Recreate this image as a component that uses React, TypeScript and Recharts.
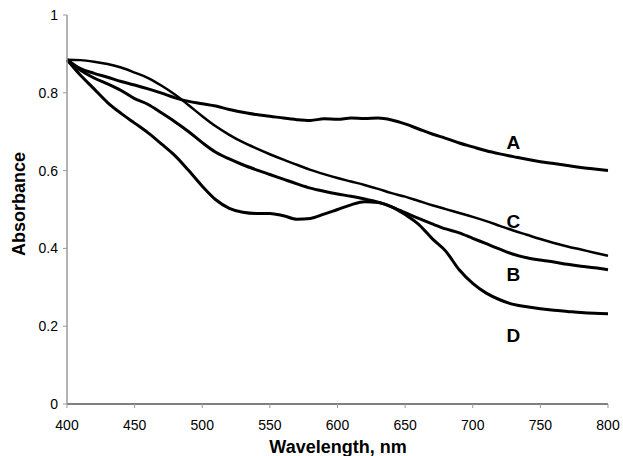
import { LineChart, Line, XAxis, YAxis, ReferenceDot, Label } from "recharts";

// absorbance spectra, every 10 nm
const wavelengths = [
  400, 410, 420, 430, 440, 450, 460, 470, 480, 490,
  500, 510, 520, 530, 540, 550, 560, 570, 580, 590,
  600, 610, 620, 630, 640, 650, 660, 670, 680, 690,
  700, 710, 720, 730, 740, 750, 760, 770, 780, 790,
  800,
];

const absA = [
  0.885, 0.862, 0.85, 0.84, 0.829, 0.82, 0.81, 0.799, 0.787, 0.778,
  0.772, 0.766, 0.757, 0.75, 0.744, 0.74, 0.735, 0.731, 0.729, 0.733,
  0.732, 0.735, 0.734, 0.735, 0.73, 0.72, 0.707, 0.694, 0.683, 0.671,
  0.661, 0.651, 0.643, 0.636, 0.629, 0.623, 0.618, 0.613, 0.608, 0.604,
  0.6,
];

const absB = [
  0.885, 0.858, 0.838, 0.823, 0.806, 0.785, 0.77, 0.748, 0.725, 0.7,
  0.672, 0.647, 0.63, 0.615, 0.602, 0.59, 0.578, 0.566, 0.555, 0.547,
  0.54, 0.534, 0.527, 0.519, 0.507, 0.492, 0.477, 0.463, 0.45, 0.44,
  0.426, 0.412, 0.398, 0.385, 0.376, 0.37, 0.365, 0.359, 0.354, 0.35,
  0.345,
];

const absC = [
  0.885, 0.884, 0.88, 0.874, 0.865, 0.852, 0.838, 0.818, 0.795, 0.768,
  0.74, 0.714, 0.692, 0.673, 0.657, 0.642, 0.628, 0.615, 0.602, 0.591,
  0.581, 0.572, 0.563, 0.553, 0.542, 0.533, 0.522, 0.511, 0.501, 0.491,
  0.481, 0.47, 0.458, 0.446, 0.435, 0.424, 0.414, 0.405, 0.397, 0.389,
  0.381,
];

const absD = [
  0.885, 0.845, 0.81, 0.775, 0.747, 0.722, 0.697, 0.668, 0.638, 0.6,
  0.56, 0.525, 0.503, 0.493, 0.49, 0.49, 0.484, 0.475, 0.477, 0.488,
  0.5, 0.512, 0.52, 0.518, 0.507, 0.487, 0.462, 0.425, 0.393, 0.345,
  0.31, 0.285, 0.268, 0.256, 0.25, 0.245, 0.241, 0.238, 0.235, 0.233,
  0.232,
];

const xTicks = [400, 450, 500, 550, 600, 650, 700, 750, 800];
const yTicks = [0, 0.2, 0.4, 0.6, 0.8, 1];

const curveNames = ["A", "B", "C", "D"];
const curveLabelX = 730;
const curveLabelY = [0.674, 0.334, 0.469, 0.177];

const data = wavelengths.map((w, i) => ({
  w,
  A: absA[i],
  B: absB[i],
  C: absC[i],
  D: absD[i],
}));

if (typeof document !== "undefined") document.body.style.margin = "0";

const font = "'Liberation Sans', Arial, sans-serif";

export default function App() {
  return (
    <div style={{ fontFamily: font }}>
      <LineChart
        width={623}
        height={456}
        data={data}
        margin={{ top: 15, right: 15, left: 0, bottom: 22 }}
      >
        <XAxis
          dataKey="w"
          type="number"
          domain={[400, 800]}
          ticks={xTicks}
          axisLine={{ stroke: "#000" }}
          tickLine={{ stroke: "#999" }}
          tickSize={4}
          tickMargin={12}
          height={30}
          tick={{ fill: "#000", fontSize: 14, fontFamily: font }}
        >
          <Label
            content={() => (
              <text x={338} y={453} textAnchor="middle" fontSize={18} fontWeight="bold" fontFamily={font} fill="#000">
                Wavelength, nm
              </text>
            )}
          />
        </XAxis>
        <YAxis
          type="number"
          domain={[0, 1]}
          ticks={yTicks}
          width={67}
          axisLine={{ stroke: "#999", strokeWidth: 1.5 }}
          tickLine={{ stroke: "#999" }}
          tickSize={4}
          tickMargin={5}
          tickFormatter={(v: number) => String(v)}
          tick={{ fill: "#000", fontSize: 14, fontFamily: font }}
        >
          <Label
            content={() => (
              <text
                x={25}
                y={204}
                transform="rotate(-90 25 204)"
                textAnchor="middle"
                fontSize={18}
                fontWeight="bold"
                fontFamily={font}
                fill="#000"
              >
                Absorbance
              </text>
            )}
          />
        </YAxis>
        <Line type="monotone" dataKey="A" stroke="#000" strokeWidth={3} dot={false} isAnimationActive={false} />
        <Line type="monotone" dataKey="B" stroke="#000" strokeWidth={3} dot={false} isAnimationActive={false} />
        <Line type="monotone" dataKey="C" stroke="#000" strokeWidth={2.5} dot={false} isAnimationActive={false} />
        <Line type="monotone" dataKey="D" stroke="#000" strokeWidth={3} dot={false} isAnimationActive={false} />
        {curveNames.map((name, i) => (
          <ReferenceDot
            key={name}
            x={curveLabelX}
            y={curveLabelY[i]}
            r={0}
            stroke="none"
            fill="none"
            label={{ value: name, position: "center", fontSize: 19, fontWeight: "bold", fill: "#000", fontFamily: font }}
          />
        ))}
      </LineChart>
    </div>
  );
}
